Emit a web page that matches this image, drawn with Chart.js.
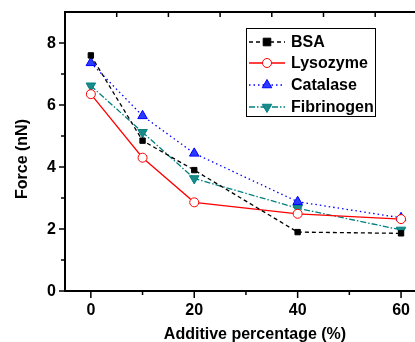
<!DOCTYPE html>
<html>
<head>
<meta charset="utf-8">
<script src="https://cdn.jsdelivr.net/npm/chart.js@4/dist/chart.umd.min.js"></script>
<style>
  html, body { margin: 0; padding: 0; background: #fff; }
  #wrap { width: 415px; height: 342px; }
</style>
</head>
<body>
<div id="wrap"><canvas id="c" width="415" height="342"></canvas></div>
<script>
// ---- data ----
const additive   = [0, 10, 20, 40, 60];
const bsa        = [7.6, 4.85, 3.9, 1.9, 1.86];
const lysozyme   = [6.35, 4.3, 2.86, 2.49, 2.32];
const catalase   = [7.36, 5.65, 4.44, 2.88, 2.36];
const fibrinogen = [6.62, 5.12, 3.63, 2.67, 1.97];

const xMajor = [0, 20, 40, 60];
const xMinor = [10, 30, 50];
const xTop   = [5, 15, 25, 35, 45, 55];
const yMajor = [0, 2, 4, 6, 8];
const yMinor = [1, 3, 5, 7];

const FONT = '"Liberation Sans", Arial, sans-serif';

function pts(vals) {
  return additive.map((x, i) => ({ x: x, y: vals[i] }));
}

const series = [
  { label: 'BSA', data: bsa, color: '#000000', fill: '#000000', dash: [4, 3], style: 'rect', r: 3.8, rot: 0 },
  { label: 'Lysozyme', data: lysozyme, color: '#ff0000', fill: '#ffffff', dash: [], style: 'circle', r: 4.5, rot: 0 },
  { label: 'Catalase', data: catalase, color: '#0000ff', fill: '#2a3cff', dash: [1.5, 3], style: 'triangle', r: 5.5, rot: 0 },
  { label: 'Fibrinogen', data: fibrinogen, color: '#008080', fill: '#1a8a8a', dash: [6, 2, 1.5, 2], style: 'triangle', r: 5.5, rot: 180 }
];

function marker(ctx, s, x, y) {
  ctx.save();
  ctx.setLineDash([]);
  ctx.lineWidth = 1;
  ctx.strokeStyle = s.color;
  ctx.fillStyle = s.fill;
  ctx.beginPath();
  if (s.style === 'rect') {
    ctx.rect(x - s.r, y - s.r, s.r * 2, s.r * 2);
  } else if (s.style === 'circle') {
    ctx.arc(x, y, s.r, 0, Math.PI * 2);
  } else {
    const d = s.rot ? -1 : 1;
    const r = s.r;
    ctx.moveTo(x, y - d * r);
    ctx.lineTo(x - r * 0.866, y + d * r * 0.5);
    ctx.lineTo(x + r * 0.866, y + d * r * 0.5);
    ctx.closePath();
  }
  ctx.fill();
  ctx.stroke();
  ctx.restore();
}

const framePlugin = {
  id: 'frame',
  afterDraw(chart) {
    const ctx = chart.ctx;
    const a = chart.chartArea;
    const xs = chart.scales.x, ys = chart.scales.y;
    ctx.save();
    ctx.strokeStyle = '#000';
    ctx.lineWidth = 2;
    ctx.setLineDash([]);
    // axes (right side is cut off in the figure)
    ctx.beginPath();
    ctx.moveTo(a.left, a.top); ctx.lineTo(chart.width, a.top);
    ctx.moveTo(a.left, a.top - 1); ctx.lineTo(a.left, a.bottom + 1);
    ctx.moveTo(a.left - 1, a.bottom); ctx.lineTo(chart.width, a.bottom);
    ctx.stroke();
    // ticks
    ctx.lineWidth = 1.5;
    ctx.beginPath();
    xMajor.forEach(v => { const p = xs.getPixelForValue(v); ctx.moveTo(p, a.bottom); ctx.lineTo(p, a.bottom + 7); });
    xMinor.forEach(v => { const p = xs.getPixelForValue(v); ctx.moveTo(p, a.bottom); ctx.lineTo(p, a.bottom + 4); });
    xTop.forEach(v => { const p = xs.getPixelForValue(v); ctx.moveTo(p, a.top); ctx.lineTo(p, a.top + 5); });
    yMajor.forEach(v => { const p = ys.getPixelForValue(v); ctx.moveTo(a.left, p); ctx.lineTo(a.left - 6, p); });
    yMinor.forEach(v => { const p = ys.getPixelForValue(v); ctx.moveTo(a.left, p); ctx.lineTo(a.left - 4, p); });
    ctx.stroke();

    // tick labels
    ctx.fillStyle = '#000';
    ctx.font = 'bold 16px ' + FONT;
    ctx.textAlign = 'center';
    ctx.textBaseline = 'alphabetic';
    xMajor.forEach(v => ctx.fillText(String(v), xs.getPixelForValue(v), a.bottom + 24));
    ctx.textAlign = 'right';
    ctx.textBaseline = 'middle';
    yMajor.forEach(v => ctx.fillText(String(v), a.left - 9, ys.getPixelForValue(v) + 1));

    // axis titles
    ctx.textAlign = 'center';
    ctx.textBaseline = 'alphabetic';
    ctx.fillText('Additive percentage (%)', 255, 338.5);
    ctx.save();
    ctx.translate(27, 159);
    ctx.rotate(-Math.PI / 2);
    ctx.fillText('Force (nN)', 0, 0);
    ctx.restore();

    // legend
    ctx.fillStyle = '#fff';
    ctx.fillRect(246, 28.5, 130, 88);
    ctx.lineWidth = 1;
    ctx.strokeStyle = '#000';
    ctx.strokeRect(246.5, 28.5, 129, 88);
    const rows = [42, 63, 85, 107];
    series.forEach((s, i) => {
      const y = rows[i];
      ctx.save();
      ctx.strokeStyle = s.color;
      ctx.lineWidth = 1.3;
      ctx.setLineDash(s.dash);
      ctx.beginPath();
      ctx.moveTo(249, y); ctx.lineTo(285, y);
      ctx.stroke();
      ctx.restore();
      marker(ctx, s, 267, y);
      ctx.fillStyle = '#000';
      ctx.font = 'bold 16px ' + FONT;
      ctx.textAlign = 'left';
      ctx.textBaseline = 'middle';
      ctx.fillText(s.label, 291, y + 1);
    });
    ctx.restore();
  }
};

new Chart(document.getElementById('c'), {
  type: 'line',
  data: {
    datasets: series.map(s => ({
      label: s.label,
      data: pts(s.data),
      borderColor: s.color,
      borderWidth: 1.3,
      borderDash: s.dash,
      backgroundColor: s.fill,
      pointStyle: s.style,
      pointRotation: s.rot,
      pointRadius: s.r,
      pointBorderWidth: 1,
      pointBorderColor: s.color,
      pointBackgroundColor: s.fill,
      tension: 0
    }))
  },
  options: {
    responsive: false,
    animation: false,
    layout: { autoPadding: false, padding: { top: 12, left: 0, right: 0, bottom: 0 } },
    plugins: { legend: { display: false }, tooltip: { enabled: false } },
    scales: {
      x: {
        type: 'linear',
        min: -5,
        max: 62.7,
        afterFit: s => { s.height = 51; },
        grid: { display: false, drawTicks: false },
        border: { display: false },
        ticks: { display: false }
      },
      y: {
        min: 0,
        max: 9,
        afterFit: s => { s.width = 65; },
        grid: { display: false, drawTicks: false },
        border: { display: false },
        ticks: { display: false }
      }
    }
  },
  plugins: [framePlugin]
});
</script>
</body>
</html>
